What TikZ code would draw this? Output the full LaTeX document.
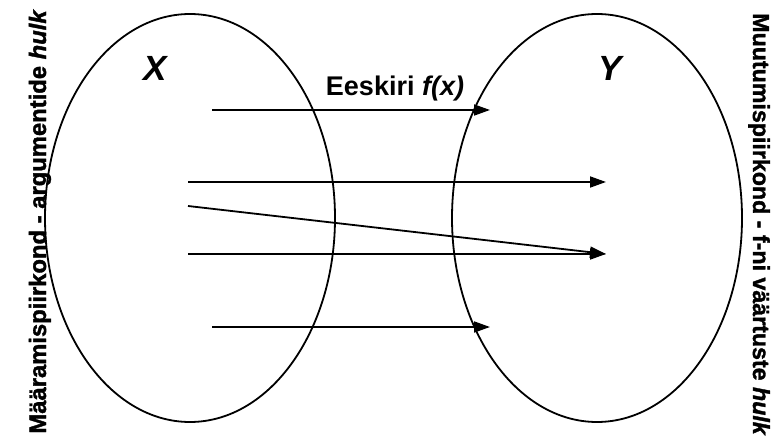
\documentclass[tikz,border=0pt]{standalone}
\usepackage{fontspec}
\setmainfont{Liberation Sans}
% heavier faces for the side captions
\newfontface\heavyup{Liberation Sans Bold}[FakeBold=1.5]
\newfontface\heavyit{Liberation Sans Bold Italic}[FakeBold=1.5]
\usetikzlibrary{shapes.geometric,arrows.meta}

\begin{document}
\begin{tikzpicture}[x=1pt,y=-1pt,
  set/.style={draw, ellipse, line width=1.8pt, minimum width=290pt,
              minimum height=408pt, inner sep=0pt},
  map/.style={line width=1.8pt, -{Triangle[length=16pt,width=11pt]}},
  setname/.style={font=\fontsize{35}{35}\selectfont\bfseries\itshape},
  side/.style={font=\fontsize{#1}{#1}\selectfont\heavyup, inner sep=0pt},
  rulelabel/.style={font=\fontsize{27}{27}\selectfont\bfseries}]
\useasboundingbox (0,0) rectangle (778,443);

% domain and codomain
\node[set] (X) at (190,218) {};
\node[set] (Y) at (597,218) {};

% set names
\node[setname] (xname) at (155,68) {X};
\node[setname] (yname) at (610,68) {Y};

% mapping rule
\node[rulelabel] (rule) at (395,89) {Eeskiri \textit{f(x)}};

% starting points in X
\coordinate (a1) at (212,110);
\coordinate (a2) at (188,182);
\coordinate (a3) at (188,206);
\coordinate (a4) at (188,254);
\coordinate (a5) at (212,327);
% images in Y
\coordinate (b1) at (490,110);
\coordinate (b2) at (606,182);
\coordinate (b4) at (606,254);
\coordinate (b5) at (490,327);

\draw[map] (a1) -- (b1);
\draw[map] (a2) -- (b2);
\draw[map] (a3) -- (b4);
\draw[map] (a4) -- (b4);
\draw[map] (a5) -- (b5);

% side captions
\node[side=23.8, rotate=90, anchor=base] (dom) at (46,222)
  {Määramispiirkond - argumentide {\heavyit hulk}};
\node[side=23.2, rotate=-90, anchor=base] (cod) at (753,224)
  {Muutumispiirkond - f-ni väärtuste {\heavyit hulk}};
\end{tikzpicture}
\end{document}
